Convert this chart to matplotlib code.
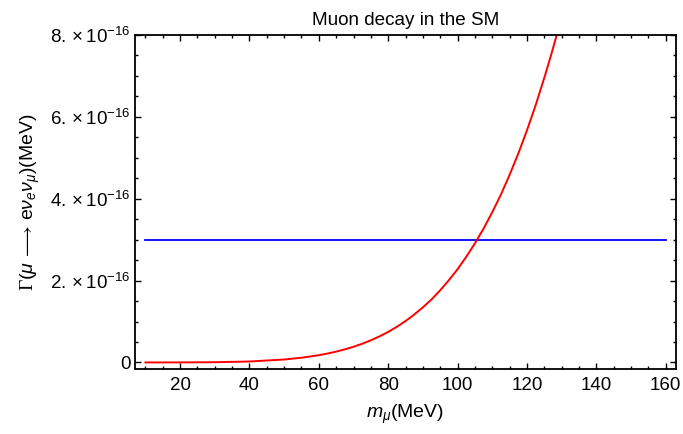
import matplotlib
matplotlib.use("Agg")
import matplotlib.pyplot as plt
from matplotlib.ticker import MultipleLocator

# Fonts, Mathematica-like look
plt.rcParams["font.family"] = ["Liberation Sans", "DejaVu Sans"]
plt.rcParams["mathtext.fontset"] = "custom"
plt.rcParams["mathtext.rm"] = "Liberation Sans"
plt.rcParams["mathtext.it"] = "Liberation Sans:italic"
plt.rcParams["mathtext.sf"] = "Liberation Serif"

# Data
mass = [10, 20, 30, 40, 50, 55, 60, 62.5, 65, 67.5, 70, 72.5, 75, 77.5,
        80, 82.5, 85, 87.5, 90, 92.5, 95, 97.5, 100, 102.5, 105, 107.5,
        110, 112.5, 115, 117.5, 120, 122.5, 125, 126.8, 128.6]
width_sm = [0.0, 0.0007, 0.0055, 0.023, 0.071, 0.115, 0.177, 0.217, 0.264,
            0.319, 0.383, 0.456, 0.541, 0.637, 0.746, 0.871, 1.011, 1.17,
            1.345, 1.54, 1.763, 2.01, 2.277, 2.58, 2.908, 3.27, 3.669, 4.10,
            4.582, 5.10, 5.667, 6.28, 6.951, 7.46, 8.0]  # x 1e-16 MeV
measured_x = [10, 160]
measured_y = [3.0, 3.0]  # x 1e-16 MeV

ytick_vals = [0, 2, 4, 6, 8]
ytick_labels = ["0", r"$2.\times10^{-16}$", r"$4.\times10^{-16}$",
                r"$6.\times10^{-16}$", r"$8.\times10^{-16}$"]

fig = plt.figure(figsize=(6.83, 4.34), dpi=100)
ax = fig.add_axes([0.1977, 0.1498, 0.7921, 0.7696])

ax.plot(measured_x, measured_y, color="#0000ff", linewidth=1.3)
ax.plot(mass, width_sm, color="#ff0000", linewidth=1.4)

ax.set_xlim(7, 163)
ax.set_ylim(-0.16, 8.0)

ax.xaxis.set_major_locator(MultipleLocator(20))
ax.xaxis.set_minor_locator(MultipleLocator(5))
ax.yaxis.set_major_locator(MultipleLocator(2))
ax.yaxis.set_minor_locator(MultipleLocator(0.5))
ax.set_yticks(ytick_vals)
ax.set_yticklabels(ytick_labels)

ax.tick_params(which="both", direction="in", top=True, right=True,
               width=1.0, labelsize=13.5)
ax.tick_params(axis="x", pad=6)
ax.tick_params(axis="y", pad=3)
ax.tick_params(which="major", length=4.5)
ax.tick_params(which="minor", length=2.5)
for s in ax.spines.values():
    s.set_linewidth(1.3)

ax.set_title("Muon decay in the SM", fontsize=13.6, pad=7)
ax.set_xlabel(r"$m_\mu$(MeV)", fontsize=14, labelpad=6)
ax.set_ylabel(r"$\mathsf{\Gamma}(\mu\,\longrightarrow\,\mathrm{e}\nu_e\nu_\mu)$(MeV)",
              fontsize=14, labelpad=6)

fig.savefig("out.png", dpi=100)
